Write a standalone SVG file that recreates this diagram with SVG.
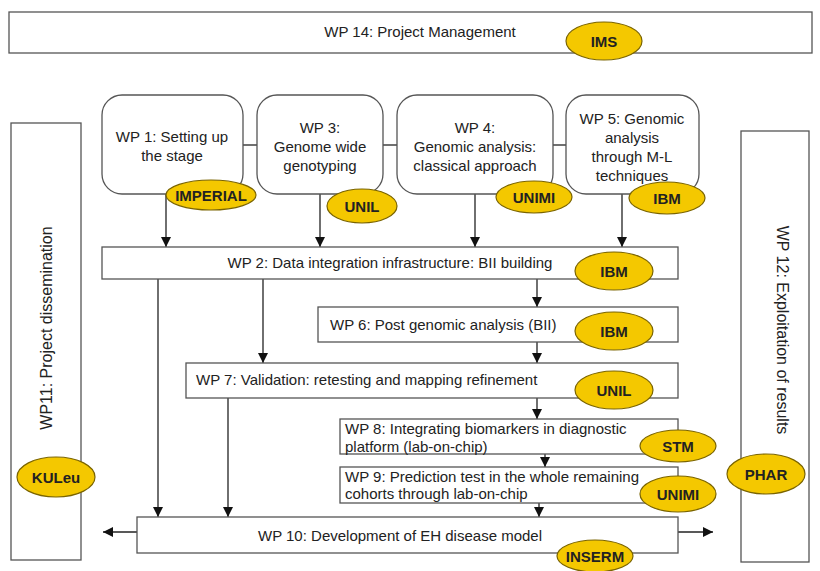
<svg xmlns="http://www.w3.org/2000/svg" width="820" height="571" viewBox="0 0 820 571">
<style>
.box{fill:#fff;stroke:#555;stroke-width:1.3}
.t{font-family:"Liberation Sans",Arial,sans-serif;font-size:15px;fill:#222}
.v{font-size:16px}
.c{text-anchor:middle}
.el{fill:#F4C800;stroke:#7a6400;stroke-width:1.2}
.lb{font-family:"Liberation Sans",Arial,sans-serif;font-size:15px;font-weight:bold;fill:#222;text-anchor:middle;dominant-baseline:central}
.ln{stroke:#222;stroke-width:1.3;fill:none}
</style>
<defs>
<marker id="ah" viewBox="0 0 10 10" refX="10" refY="5" markerWidth="10" markerHeight="10" markerUnits="userSpaceOnUse" orient="auto">
<path d="M0,0 L10,5 L0,10 z" fill="#111"/>
</marker>
</defs>
<rect width="820" height="571" fill="#fff"/>
<g id="connectors">
<line class="ln" x1="243" y1="145" x2="257" y2="145"/>
<line class="ln" x1="383" y1="145" x2="397" y2="145"/>
<line class="ln" x1="553" y1="145" x2="566" y2="145"/>
<line class="ln" x1="166" y1="194" x2="166" y2="247" marker-end="url(#ah)"/>
<line class="ln" x1="320" y1="194" x2="320" y2="247" marker-end="url(#ah)"/>
<line class="ln" x1="475" y1="194" x2="475" y2="247" marker-end="url(#ah)"/>
<line class="ln" x1="622" y1="194" x2="622" y2="247" marker-end="url(#ah)"/>
<line class="ln" x1="537" y1="279" x2="537" y2="307" marker-end="url(#ah)"/>
<line class="ln" x1="537" y1="342" x2="537" y2="363" marker-end="url(#ah)"/>
<line class="ln" x1="537" y1="398" x2="537" y2="419" marker-end="url(#ah)"/>
<line class="ln" x1="545" y1="454" x2="545" y2="467" marker-end="url(#ah)"/>
<line class="ln" x1="539" y1="503" x2="539" y2="517" marker-end="url(#ah)"/>
<line class="ln" x1="158" y1="279" x2="158" y2="517" marker-end="url(#ah)"/>
<line class="ln" x1="263" y1="279" x2="263" y2="363" marker-end="url(#ah)"/>
<line class="ln" x1="228" y1="398" x2="228" y2="517" marker-end="url(#ah)"/>
<line class="ln" x1="137" y1="532" x2="103" y2="532" marker-end="url(#ah)"/>
<line class="ln" x1="678" y1="532" x2="713" y2="532" marker-end="url(#ah)"/>
</g>
<g id="wp14">
<rect class="box" x="9" y="12" width="803" height="41"/>
<text class="t c" x="420" y="37">WP 14: Project Management</text>
</g>
<g id="wp11">
<rect class="box" x="11" y="123" width="70" height="437"/>
<text class="t v c" transform="translate(46,328) rotate(-90)" dominant-baseline="central">WP11: Project dissemination</text>
</g>
<g id="wp12">
<rect class="box" x="741" y="131" width="68" height="431"/>
<text class="t v c" transform="translate(782,330) rotate(90)" dominant-baseline="central">WP 12: Exploitation of results</text>
</g>
<g id="wp1">
<rect class="box" x="102" y="95" width="141" height="99" rx="20"/>
<text class="t c" x="172" y="142">WP 1: Setting up</text>
<text class="t c" x="172" y="161">the stage</text>
</g>
<g id="wp3">
<rect class="box" x="257" y="95" width="126" height="99" rx="20"/>
<text class="t c" x="320" y="133">WP 3:</text>
<text class="t c" x="320" y="152">Genome wide</text>
<text class="t c" x="320" y="171">genotyping</text>
</g>
<g id="wp4">
<rect class="box" x="397" y="95" width="156" height="99" rx="20"/>
<text class="t c" x="475" y="133">WP 4:</text>
<text class="t c" x="475" y="152">Genomic analysis:</text>
<text class="t c" x="475" y="171">classical approach</text>
</g>
<g id="wp5">
<rect class="box" x="566" y="95" width="133" height="99" rx="20"/>
<text class="t c" x="632" y="124">WP 5: Genomic</text>
<text class="t c" x="632" y="143">analysis</text>
<text class="t c" x="632" y="162">through M-L</text>
<text class="t c" x="632" y="181">techniques</text>
</g>
<g id="wp2">
<rect class="box" x="102" y="247" width="576" height="32"/>
<text class="t c" x="390" y="268">WP 2: Data integration infrastructure: BII building</text>
</g>
<g id="wp6">
<rect class="box" x="318" y="307" width="360" height="35"/>
<text class="t" x="330" y="330">WP 6: Post genomic analysis (BII)</text>
</g>
<g id="wp7">
<rect class="box" x="186" y="363" width="492" height="35"/>
<text class="t" x="196" y="385">WP 7: Validation: retesting and mapping refinement</text>
</g>
<g id="wp8">
<rect class="box" x="340" y="419" width="338" height="35"/>
<text class="t" x="345" y="434">WP 8: Integrating biomarkers in diagnostic</text>
<text class="t" x="345" y="452">platform (lab-on-chip)</text>
</g>
<g id="wp9">
<rect class="box" x="340" y="467" width="338" height="36"/>
<text class="t" x="345" y="482">WP 9: Prediction test in the whole remaining</text>
<text class="t" x="345" y="499">cohorts through lab-on-chip</text>
</g>
<g id="wp10">
<rect class="box" x="137" y="517" width="541" height="36"/>
<text class="t c" x="400" y="541">WP 10: Development of EH disease model</text>
</g>
<g id="partners">
<ellipse class="el" cx="604" cy="41" rx="38" ry="19"/><text class="lb" x="604" y="41">IMS</text>
<ellipse class="el" cx="211" cy="195" rx="45" ry="15"/><text class="lb" x="211" y="195">IMPERIAL</text>
<ellipse class="el" cx="362" cy="206" rx="35" ry="17"/><text class="lb" x="362" y="206">UNIL</text>
<ellipse class="el" cx="534" cy="197" rx="38" ry="16"/><text class="lb" x="534" y="197">UNIMI</text>
<ellipse class="el" cx="667" cy="198" rx="38" ry="16"/><text class="lb" x="667" y="198">IBM</text>
<ellipse class="el" cx="614" cy="271" rx="39" ry="19"/><text class="lb" x="614" y="271">IBM</text>
<ellipse class="el" cx="614" cy="331" rx="39" ry="19"/><text class="lb" x="614" y="331">IBM</text>
<ellipse class="el" cx="614" cy="390" rx="39" ry="19"/><text class="lb" x="614" y="390">UNIL</text>
<ellipse class="el" cx="678" cy="446" rx="38" ry="16"/><text class="lb" x="678" y="446">STM</text>
<ellipse class="el" cx="678" cy="494" rx="38" ry="18"/><text class="lb" x="678" y="494">UNIMI</text>
<ellipse class="el" cx="595" cy="556" rx="38" ry="16"/><text class="lb" x="595" y="556">INSERM</text>
<ellipse class="el" cx="56" cy="477" rx="39" ry="20"/><text class="lb" x="56" y="477">KULeu</text>
<ellipse class="el" cx="766" cy="474" rx="39" ry="20"/><text class="lb" x="766" y="474">PHAR</text>
</g>
</svg>
